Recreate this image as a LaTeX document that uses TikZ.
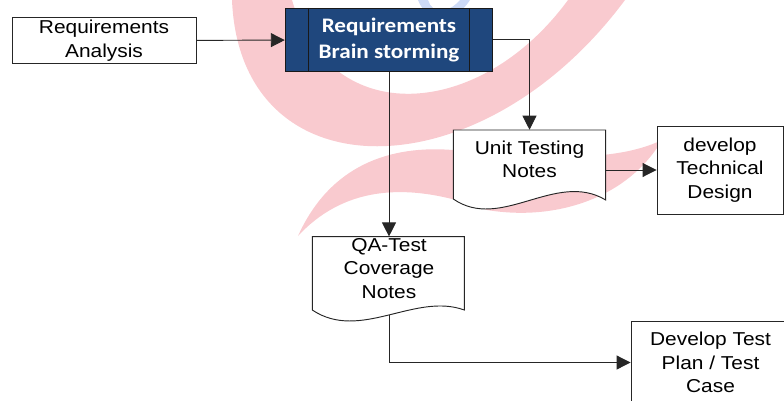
\documentclass[tikz,border=0pt]{standalone}
\usepackage{fontspec}
\setmainfont[FakeStretch=1.12]{Liberation Sans}
\newfontfamily\calfont[FakeStretch=1.12]{Carlito}
\usetikzlibrary{arrows.meta}
\definecolor{stormblue}{RGB}{31,71,125}
\definecolor{markpink}{RGB}{249,202,207}
\definecolor{markblue}{RGB}{205,218,246}
\tikzset{
    box/.style={draw=black!85, line width=0.7pt, fill=white, align=center, inner sep=0pt,
        font=\fontsize{14}{17.5}\selectfont},
    docbox/.style={align=center, inner sep=0pt, font=\fontsize{14}{17.5}\selectfont},
    predef/.style={draw=black!90, line width=0.7pt, fill=stormblue, text=white, align=center,
        inner sep=0pt, font=\calfont\bfseries\fontsize{15.5}{19.5}\selectfont},
    outline/.style={draw=black!85, line width=0.7pt, fill=white},
    flow/.style={draw=black!85, line width=0.7pt, -{Triangle[length=10.5pt,width=10.5pt]}}
}
\begin{document}
\begin{tikzpicture}[x=0.75pt,y=-0.75pt]
    \useasboundingbox (0,0) rectangle (784,400);
    \path [fill=markpink] (232,0) .. controls (240,195) and (480,195) .. (625,0) -- (568,0) .. controls (480,120) and (330,130) .. (292,0) -- cycle;
    \path [fill=markblue] (418,0) .. controls (425,20) and (452,28) .. (470,0) -- (460,0) .. controls (448,14) and (432,14) .. (428,0) -- cycle;
    \path [fill=markpink] (298,236) .. controls (330,165) and (390,145) .. (453,150) .. controls (530,156) and (610,165) .. (662,140) .. controls (630,195) and (560,222) .. (487,210) .. controls (420,185) and (350,180) .. (298,236) -- cycle;

    \node [box, minimum width=138pt, minimum height=34.5pt] (ra) at (104,40.7) {Requirements\\Analysis};
    \node [predef, minimum width=155.6pt, minimum height=47pt] (bs) at (389,39.7) {Requirements\\Brain storming};
    \draw [black!90, line width=0.7pt] ([xshift=18pt]bs.north west) -- ([xshift=18pt]bs.south west);
    \draw [black!90, line width=0.7pt] ([xshift=-18pt]bs.north east) -- ([xshift=-18pt]bs.south east);

    \draw [outline] (453.3,199) -- (453.3,130) -- (605.7,130) -- (605.7,200) .. controls (556,170) and (501,232) .. (453.3,199) -- cycle;
    \node [docbox, minimum width=114.3pt, minimum height=43.5pt] (ut) at (529.5,159) {Unit Testing\\Notes};

    \draw [outline] (312.3,310) -- (312.3,236.7) -- (464.3,236.7) -- (464.3,310) .. controls (415,292) and (360,342) .. (312.3,310) -- cycle;
    \node [docbox, minimum width=114pt, minimum height=47.4pt] (qa) at (389,268.3) {QA-Test\\Coverage\\Notes};
    \coordinate (qaend) at (389,315);

    \node [box, minimum width=94.5pt, minimum height=66pt] (dtd) at (720,170) {develop\\Technical\\Design};
    \node [box, minimum width=119.2pt, minimum height=61.5pt] (dtp) at (710.5,362.5) {Develop Test\\Plan / Test\\Case};

    \draw [flow] (ra) -- (bs);
    \draw [flow] (bs.east) -| (ut.north);
    \draw [flow] (bs.south) -- (qa.north);
    \draw [flow] (dtd.west -| 605.7,0) -- (dtd.west);
    \draw [flow] (qaend) |- (dtp.west);
\end{tikzpicture}
\end{document}
